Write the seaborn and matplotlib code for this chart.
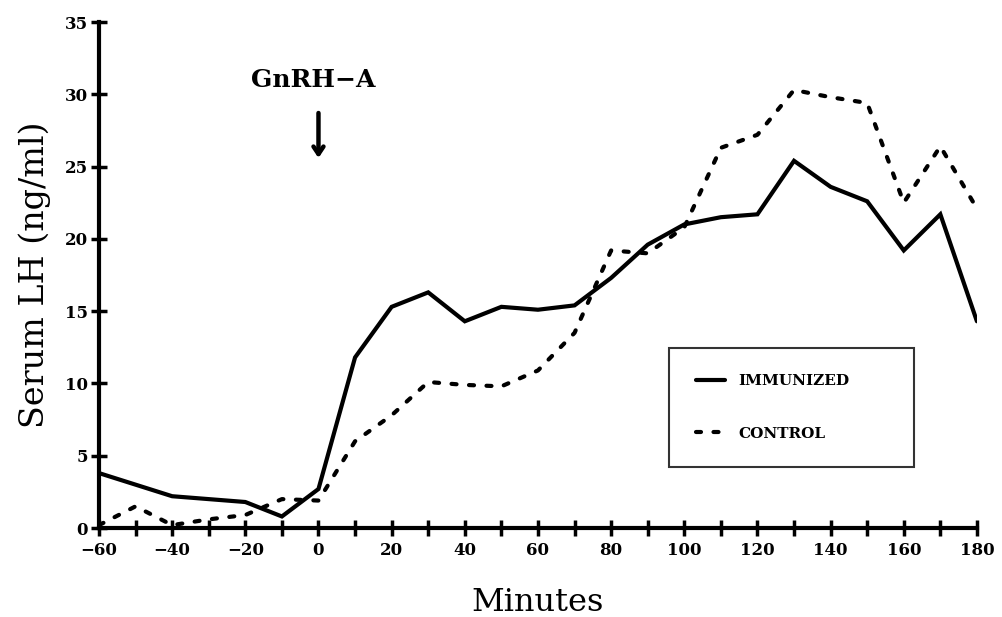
import numpy as np
import pandas as pd
import matplotlib
matplotlib.use("Agg")
import matplotlib.pyplot as plt
import seaborn as sns

minutes = [-60, -50, -40, -30, -20, -10, 0, 10, 20, 30, 40, 50, 60, 70, 80,
           90, 100, 110, 120, 130, 140, 150, 160, 170, 180]
immunized = [3.8, 3.0, 2.2, 2.0, 1.8, 0.8, 2.7, 11.8, 15.3, 16.3, 14.3, 15.3, 15.1,
             15.4, 17.3, 19.6, 21.0, 21.5, 21.7, 25.4, 23.6, 22.6, 19.2, 21.7, 14.3]
control = [0.2, 1.5, 0.2, 0.6, 0.9, 2.0, 1.9, 6.0, 7.8, 10.1, 9.9, 9.8, 10.9,
           13.5, 19.2, 19.0, 20.8, 26.3, 27.2, 30.3, 29.8, 29.4, 22.5, 26.4, 22.1]
groups = ["IMMUNIZED", "CONTROL"]
xticks_major = list(range(-60, 181, 20))
yticks = list(range(0, 36, 5))

df = pd.DataFrame({
    "Minutes": minutes * 2,
    "LH": immunized + control,
    "Group": [groups[0]] * len(minutes) + [groups[1]] * len(minutes),
})

sns.set_theme(style="white")
plt.rcParams["font.family"] = ["DejaVu Serif"]
plt.rcParams["text.color"] = "black"
plt.rcParams["axes.labelcolor"] = "black"
plt.rcParams["xtick.color"] = "black"
plt.rcParams["ytick.color"] = "black"

fig = plt.figure(figsize=(10.03, 6.17), dpi=100)
ax = fig.add_axes([0.0987, 0.1442, 0.8753, 0.8201])

sns.lineplot(data=df, x="Minutes", y="LH", style="Group", style_order=groups,
             dashes={groups[0]: "", groups[1]: (1.2, 3.0)}, color="black",
             linewidth=3.0, ax=ax, legend=True)
for ln in ax.lines:
    ln.set_dash_capstyle("round")
    ln.set_solid_joinstyle("miter")

ax.set_xlim(-60, 180)
ax.set_ylim(0, 35)
ax.set_xticks(xticks_major)
ax.set_xticks(list(range(-60, 181, 10)), minor=True)
ax.set_yticks(yticks)
ax.set_xticklabels([str(t).replace("-", "\u2212") for t in xticks_major])
for lab in ax.get_xticklabels() + ax.get_yticklabels():
    lab.set_fontfamily("DejaVu Serif")
    lab.set_fontweight("bold")
    lab.set_fontsize(12)
    lab.set_color("black")
ax.tick_params(axis="both", which="both", direction="inout", length=12, width=2.5,
               color="black", bottom=True, left=True, labelcolor="black")
ax.tick_params(axis="x", pad=4)
ax.tick_params(axis="y", pad=2)

for s in ["top", "right"]:
    ax.spines[s].set_visible(False)
for s in ["left", "bottom"]:
    ax.spines[s].set_linewidth(3)
    ax.spines[s].set_color("black")

ax.set_xlabel("Minutes", fontsize=23, labelpad=20, family="DejaVu Serif", color="black")
ax.set_ylabel("Serum LH (ng/ml)", fontsize=24, labelpad=10, family="DejaVu Serif",
              color="black")

ax.annotate("", xy=(0, 25.4), xytext=(0, 28.9),
            arrowprops=dict(arrowstyle="->,head_length=0.45,head_width=0.3",
                            color="black", lw=3.2))
ax.text(-1.5, 31.0, "GnRH\u2212A", ha="center", va="center", color="black",
        family="DejaVu Serif", fontweight="bold", fontsize=18)

leg = ax.legend(loc="lower left", bbox_to_anchor=(0.649, 0.12, 0.279, 0.251),
                mode="expand", frameon=True, fancybox=False, edgecolor="black",
                handlelength=1.9, handletextpad=0.9, labelspacing=2.5,
                borderpad=1.75, borderaxespad=0,
                prop={"family": "DejaVu Serif", "weight": "bold", "size": 11})
leg.get_frame().set_linewidth(1.5)
for t in leg.get_texts():
    t.set_color("black")

fig.savefig("out.png", dpi=100)
